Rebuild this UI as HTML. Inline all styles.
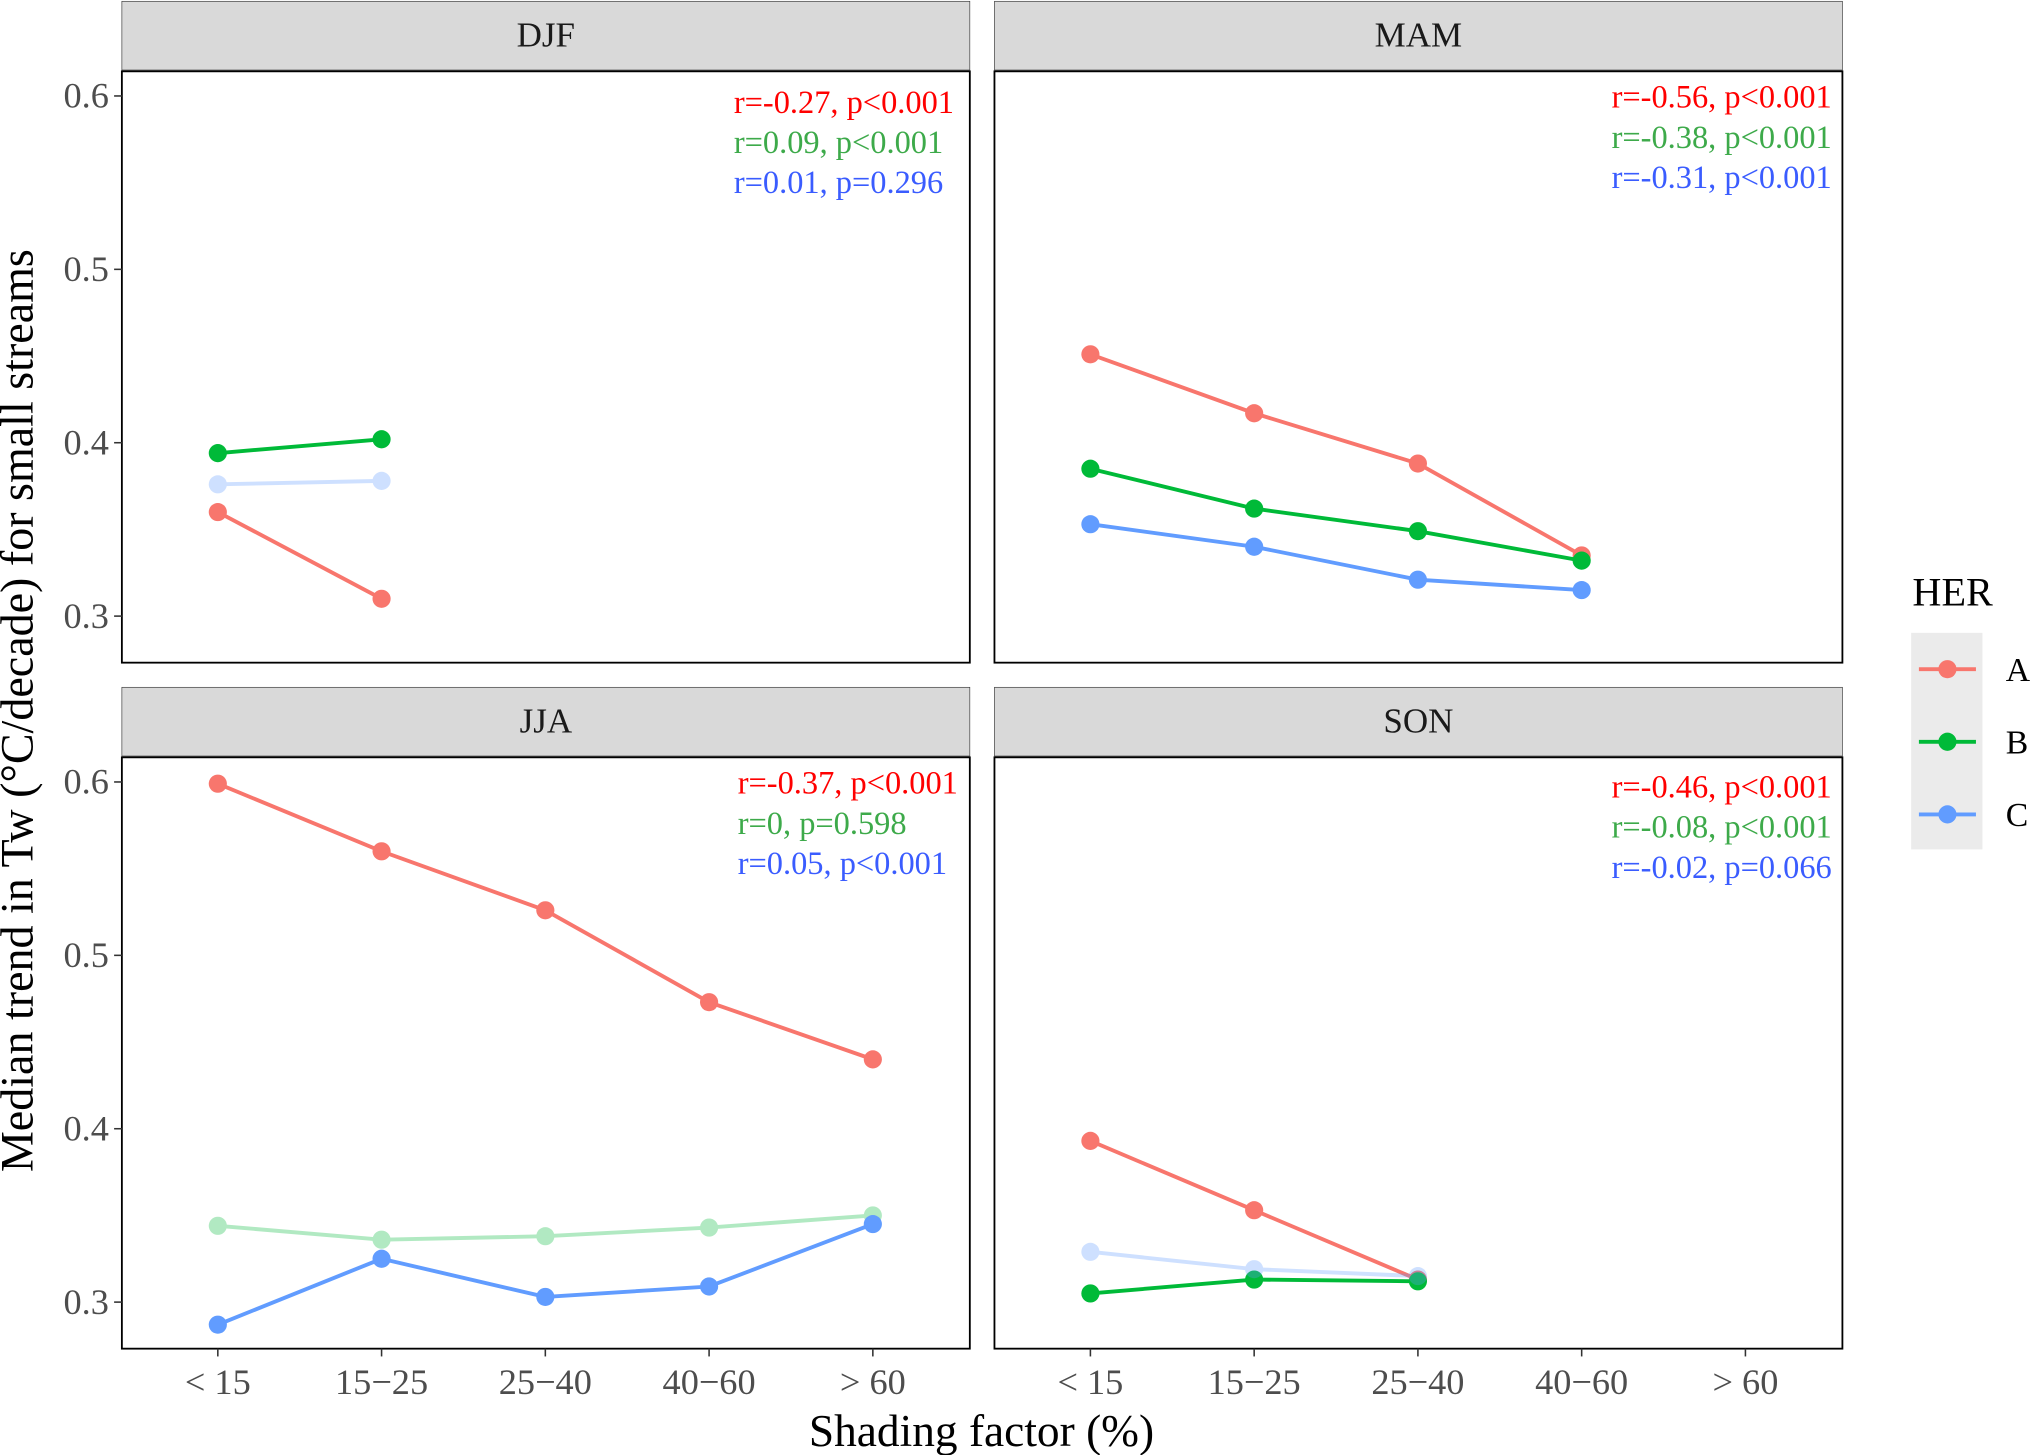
<!DOCTYPE html>
<html><head><meta charset="utf-8"><style>
html,body{margin:0;padding:0;background:#fff;}
svg{display:block;font-family:"Liberation Serif",serif;}
</style></head><body>
<svg id="chart" width="2033" height="1455" viewBox="0 0 1568 1122" preserveAspectRatio="none" xmlns="http://www.w3.org/2000/svg">
<text transform="translate(25,548) rotate(-90)" text-anchor="middle" font-size="35.5" fill="#000">Median trend in Tw (°C/decade) for small streams</text>
<text x="757" y="1115" text-anchor="middle" font-size="35" fill="#000">Shading factor (%)</text>
<g>
<text x="1475" y="467" font-size="31">HER</text>
<rect x="1474" y="488" width="55" height="167" fill="#EBEBEB"/>
<g><line x1="1480" x2="1524" y1="516" y2="516" stroke="#F8766D" stroke-width="3"/><circle cx="1502" cy="516" r="7" fill="#F8766D"/><text x="1547" y="525" font-size="26">A</text></g>
<g><line x1="1480" x2="1524" y1="572" y2="572" stroke="#00BA38" stroke-width="3"/><circle cx="1502" cy="572" r="7" fill="#00BA38"/><text x="1547" y="581" font-size="26">B</text></g>
<g><line x1="1480" x2="1524" y1="628" y2="628" stroke="#619CFF" stroke-width="3"/><circle cx="1502" cy="628" r="7" fill="#619CFF"/><text x="1547" y="637" font-size="26">C</text></g>
</g>
<g id="panels"></g>
</svg>
<script>
const categories = ["< 15","15\u221225","25\u221240","40\u221260","> 60"];
const yTicks = [0.3,0.4,0.5,0.6];
const seasons = ["DJF","MAM","JJA","SON"];
const djfA = [0.36,0.31], djfB = [0.394,0.402], djfC = [0.376,0.378];
const mamA = [0.451,0.417,0.388,0.335], mamB = [0.385,0.362,0.349,0.332], mamC = [0.353,0.340,0.321,0.315];
const jjaA = [0.599,0.560,0.526,0.473,0.440], jjaB = [0.344,0.336,0.338,0.343,0.350], jjaC = [0.287,0.325,0.303,0.309,0.345];
const sonA = [0.393,0.353,0.313], sonB = [0.305,0.313,0.312], sonC = [0.329,0.319,0.315];
const faded = {DJF:"C", MAM:"", JJA:"B", SON:"C"};
const labelsDJF = ["r=-0.27, p<0.001","r=0.09, p<0.001","r=0.01, p=0.296"];
const labelsMAM = ["r=-0.56, p<0.001","r=-0.38, p<0.001","r=-0.31, p<0.001"];
const labelsJJA = ["r=-0.37, p<0.001","r=0, p=0.598","r=0.05, p<0.001"];
const labelsSON = ["r=-0.46, p<0.001","r=-0.08, p<0.001","r=-0.02, p=0.066"];

const NS="http://www.w3.org/2000/svg";
const colors={A:"#F8766D",B:"#00BA38",C:"#619CFF"};
const txtColors=["#FF0000","#3DAA4A","#3A5CFF"];
const series={DJF:{A:djfA,B:djfB,C:djfC},MAM:{A:mamA,B:mamB,C:mamC},JJA:{A:jjaA,B:jjaB,C:jjaC},SON:{A:sonA,B:sonB,C:sonC}};
const labels={DJF:labelsDJF,MAM:labelsMAM,JJA:labelsJJA,SON:labelsSON};
const layout={DJF:[94,1,true],MAM:[767,1,false],JJA:[94,530,true],SON:[767,530,false]};
const root=document.getElementById("panels");
function el(tag,attrs,parent){const e=document.createElementNS(NS,tag);for(const k in attrs)e.setAttribute(k,attrs[k]);parent.appendChild(e);return e;}
seasons.forEach(s=>{
  const [px,py,left]=layout[s];
  const W=654, top=py+54, H=456;
  const g=el("g",{},root);
  
  
  const xs=i=>px+74+i*126.3;
  const ys=v=>top+19+(0.6-v)/0.1*133.7;
  const strip=el("rect",{x:px,y:py,width:W,height:53,fill:"#D9D9D9",stroke:"#333",'stroke-width':0.5},g);
  
  
  const st=el("text",{x:px+W/2,y:py+35,'text-anchor':"middle",'font-size':27,fill:"#1A1A1A"},g);st.textContent=s;
  
  
  const border=el("rect",{x:px,y:top,width:W,height:H,fill:"none",stroke:"#000",'stroke-width':1.4},g);
  
  
  if(left){yTicks.forEach(t=>{
    el("line",{x1:px-6,x2:px,y1:ys(t),y2:ys(t),stroke:"#333",'stroke-width':1.2},g);
    const tt=el("text",{x:px-10,y:ys(t)+9,'text-anchor':"end",'font-size':28,fill:"#4D4D4D"},g);tt.textContent=t.toFixed(1);
    
    
  });}
  if(py>100){categories.forEach((c,i)=>{
    el("line",{x1:xs(i),x2:xs(i),y1:top+H,y2:top+H+6,stroke:"#333",'stroke-width':1.2},g);
    const tt=el("text",{x:xs(i),y:top+H+35,'text-anchor':"middle",'font-size':28,fill:"#4D4D4D"},g);tt.textContent=c;
    
    
  });}
  ["A","B","C"].forEach(k=>{
    const vals=series[s][k]; const op=faded[s]===k?0.3:1;
    const sg=el("g",{opacity:op},g);
    
    
    el("polyline",{points:vals.map((v,i)=>xs(i)+","+ys(v)).join(" "),fill:"none",stroke:colors[k],'stroke-width':3},sg);
    vals.forEach((v,i)=>{const c=el("circle",{cx:xs(i),cy:ys(v),r:7,fill:colors[k]},sg);
      
      });
  });
  const ax = s==="DJF"?566: s==="JJA"?569: px+476;
  const ay = (s==="DJF")?87:(s==="MAM"?83:(s==="JJA"?612:615));
  labels[s].forEach((l,i)=>{
    const t=el("text",{x:ax,y:ay+i*31,'font-size':25,fill:txtColors[i]},g);t.textContent=l;
    
    
  });
});
</script>
</body></html>
